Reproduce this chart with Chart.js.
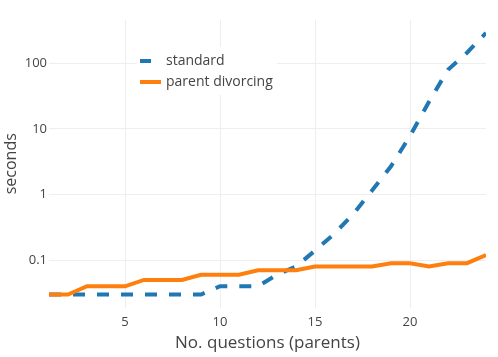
<!DOCTYPE html>
<html>
<head>
<meta charset="utf-8">
<script src="https://cdn.jsdelivr.net/npm/chart.js@4/dist/chart.umd.min.js"></script>
<style>
  html, body { margin: 0; padding: 0; background: #fff; }
</style>
</head>
<body>
<canvas id="myChart" width="498" height="357"></canvas>
<script>
const questions = [1, 2, 3, 4, 5, 6, 7, 8, 9, 10, 11, 12, 13, 14, 15, 16, 17, 18, 19, 20, 21, 22, 23, 24];
const standard = [0.03, 0.03, 0.03, 0.03, 0.03, 0.03, 0.03, 0.03, 0.03, 0.04, 0.04, 0.04,
                  0.06, 0.08, 0.14, 0.25, 0.5, 1.15, 2.7, 7.8, 26, 80, 145, 290];
const parentDivorcing = [0.03, 0.03, 0.04, 0.04, 0.04, 0.05, 0.05, 0.05, 0.06, 0.06, 0.06, 0.07,
                         0.07, 0.07, 0.08, 0.08, 0.08, 0.08, 0.09, 0.09, 0.08, 0.09, 0.09, 0.12];
const xTicks = [5, 10, 15, 20];
const yTicks = [0.1, 1, 10, 100];

Chart.defaults.font.family = "'Open Sans', sans-serif";
Chart.defaults.color = '#444';

// plotly-like legend box drawn inside the plot area
const legendBox = {
  id: 'legendBox',
  beforeDatasetsDraw(chart) {
    const c = chart.ctx;
    c.save();
    c.fillStyle = '#fff';
    c.fillRect(137, 47, 140, 48);
    c.font = "14px 'Open Sans', sans-serif";
    c.textBaseline = 'middle';
    chart.data.datasets.forEach((ds, i) => {
      const y = 61 + i * 21;
      c.strokeStyle = ds.borderColor;
      c.lineWidth = 4;
      c.beginPath();
      if (ds.borderDash.length) {
        c.moveTo(140, y); c.lineTo(151, y);
      } else {
        c.moveTo(140, y); c.lineTo(161, y);
      }
      c.stroke();
      c.fillStyle = '#444';
      c.fillText(ds.label, 166, y);
    });
    c.restore();
  }
};

const ctx = document.getElementById('myChart');

const myChart = new Chart(ctx, {
  type: 'line',
  data: {
    labels: questions,
    datasets: [{
      label: 'standard',
      data: standard,
      borderColor: '#1f77b4',
      borderWidth: 4,
      borderDash: [12, 12],
      pointRadius: 0,
      order: 2
    }, {
      label: 'parent divorcing',
      data: parentDivorcing,
      borderColor: '#ff7f0e',
      borderWidth: 4,
      borderDash: [],
      pointRadius: 0,
      order: 1
    }]
  },
  options: {
    responsive: false,
    animation: false,
    layout: { padding: { top: 20, right: 12, left: 0, bottom: 0 } },
    plugins: {
      legend: { display: false },
      tooltip: { enabled: false }
    },
    scales: {
      x: {
        type: 'linear',
        min: 1,
        max: 24,
        afterBuildTicks: (scale) => { scale.ticks = xTicks.map(v => ({ value: v })); },
        afterFit: (scale) => { scale.height = 49.5; },
        grid: { color: '#eee', drawTicks: false },
        border: { display: false },
        ticks: { padding: 7, font: { size: 13 }, color: '#444' },
        title: {
          display: true,
          text: 'No. questions (parents)',
          font: { size: 17 },
          color: '#444',
          padding: { top: 0, bottom: 4 }
        }
      },
      y: {
        type: 'logarithmic',
        min: 0.019,
        max: 457,
        afterBuildTicks: (scale) => { scale.ticks = yTicks.map(v => ({ value: v })); },
        afterFit: (scale) => { scale.width = 49; },
        grid: { color: '#eee', drawTicks: false },
        border: { display: false },
        ticks: {
          padding: 2,
          font: { size: 13 },
          color: '#444',
          callback: (v) => String(v)
        },
        title: {
          display: true,
          text: 'seconds',
          font: { size: 16 },
          color: '#444',
          padding: { top: 2, bottom: 0 }
        }
      }
    }
  },
  plugins: [legendBox]
});
</script>
</body>
</html>
